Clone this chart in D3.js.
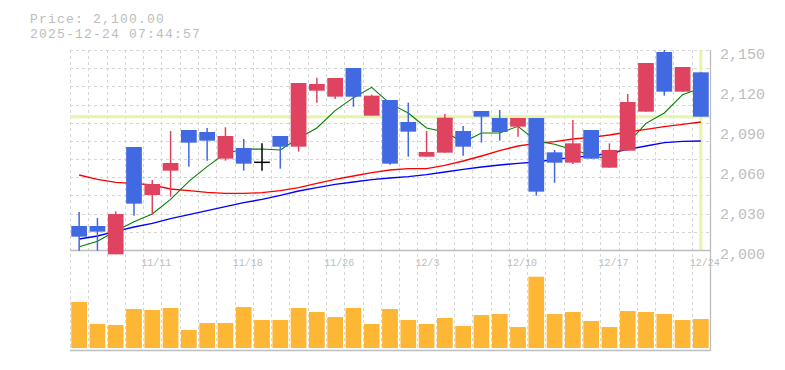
<!DOCTYPE html>
<html><head><meta charset="utf-8">
<script src="https://cdn.jsdelivr.net/npm/d3@7"></script>
<style>
html,body{margin:0;padding:0;background:#fff;}
svg{display:block;}
</style></head>
<body>
<svg id="c" width="785" height="370"></svg>
<script>
const dates = ["11/5","11/6","11/7","11/10","11/11","11/12","11/13","11/14","11/17","11/18","11/19","11/20","11/21","11/25","11/26","11/27","11/28","12/1","12/2","12/3","12/4","12/5","12/8","12/9","12/10","12/11","12/12","12/15","12/16","12/17","12/18","12/19","12/22","12/23","12/24"];
const openP  = [2018,2018,1996.75,2077.25,2041.25,2059.5,2090,2088.5,2068.5,2076.5,2065.75,2085.5,2077.5,2119.5,2115,2136.5,2100.75,2112.5,2096,2070,2073,2089.25,2104.25,2099,2092.5,2099,2073.25,2065.5,2090,2061.75,2074.5,2103.75,2148.5,2118.75,2133.25];
const highP  = [2028.5,2024,2029,2077.25,2052.5,2089.25,2090,2091.5,2092,2083.25,2080,2085.5,2125.25,2129.25,2129,2136.5,2116.5,2112.5,2110.5,2089.25,2102,2093,2104.25,2105,2099,2099,2075,2097.5,2090,2080,2117,2140.25,2150,2137.25,2133.25];
const lowP   = [1999.5,1999.5,1996.75,2025.75,2026.25,2040,2062.5,2067,2067,2059.5,2059.5,2061,2073.75,2110.5,2113.25,2107.5,2100.75,2064,2070,2070,2073,2070.75,2080.5,2082,2085,2040.75,2050.5,2064.5,2068.5,2061.75,2074.5,2103.75,2115.75,2118.75,2100];
const closeP = [2010,2013.75,2027,2034.75,2049.5,2065.25,2080.5,2082,2085.5,2064.75,2065.75,2077.5,2125.25,2124.5,2129,2115,2115.75,2064.75,2088.75,2073.5,2099.25,2077.5,2100,2088.5,2099,2043.75,2065.5,2080,2068.5,2075,2111,2140.25,2118.75,2137.25,2100];
const ma5  = [2002.5,2006.5,2014.25,2021.25,2027,2038,2051.5,2062.5,2072.5,2075.5,2075.75,2075,2083.75,2091.5,2104.5,2114.25,2122,2109.75,2102.75,2091.5,2088.5,2080.75,2087.75,2087.75,2092.75,2081.75,2079.25,2075.25,2071.25,2068,2080,2095,2102.75,2116.5,2121.5];
const ma25 = [2056.25,2053,2050.75,2050,2048.75,2045.75,2044.5,2043.25,2042.5,2042.5,2043,2044.5,2046.75,2050,2053,2055.5,2058,2060,2061,2061,2063.5,2066.75,2070.5,2074.5,2078,2080,2081.25,2083.25,2084.5,2086.25,2088.5,2090.5,2092.5,2094.25,2096];
const ma75 = [2008.25,2010.5,2014,2017.25,2020,2023.5,2026.5,2029.5,2032.5,2035.5,2038,2041,2044.25,2046.75,2049.25,2051,2052.75,2054,2055,2056.5,2058.5,2060.5,2062.25,2063.75,2065,2066,2068,2069.5,2070.5,2072.5,2075.5,2078,2080.5,2081.5,2081.75];
const volume = [4600,2400,2300,3900,3800,4000,1800,2500,2500,4100,2800,2800,4000,3600,3100,4000,2400,3900,2800,2400,3000,2200,3300,3400,2100,7130,3400,3600,2700,2100,3700,3600,3400,2800,2900];
const priceTicks = [2000,2030,2060,2090,2120,2150];
const dateTicks = ["11/11","11/18","11/26","12/3","12/10","12/17","12/24"];
const currentPrice = 2100;
const titleLines = ["Price: 2,100.00","2025-12-24 07:44:57"];

const svg = d3.select("#c");
const L = 70, R = 710, T = 50, B = 250, VB = 348, VT = 276.7, VAX = 350;
const x = d3.scaleBand().domain(dates).range([L, R]).paddingInner(0.14).paddingOuter(0.07);
const y = d3.scaleLinear().domain([2000, 2150]).range([B, T]);
const yv = d3.scaleLinear().domain([0, d3.max(volume)]).range([VB, VT]);
const step = x.step(), bw = x.bandwidth();
const cx = d => x(d) + bw / 2;
const boundary = (d, i) => L + i * step;

const gridColor = "#d6d6d6";
const grid = svg.append("g").attr("stroke", gridColor).attr("stroke-dasharray", "3,3").attr("stroke-width", 1).attr("shape-rendering", "crispEdges");
grid.selectAll("line.v").data(dates).join("line")
  .attr("x1", (d, i) => Math.round(boundary(d, i)) + 0.5)
  .attr("x2", (d, i) => Math.round(boundary(d, i)) + 0.5)
  .attr("y1", T).attr("y2", VAX);
const hVals = d3.range(11).map(k => 2150 - k * 150 / 11);
grid.selectAll("line.h").data(hVals).join("line")
  .attr("x1", L).attr("x2", R).attr("y1", d => Math.round(y(d)) + 0.5).attr("y2", d => Math.round(y(d)) + 0.5);

// current price line & crosshair
const hl = "#e6f5ab";
svg.append("line").attr("x1", L).attr("x2", R).attr("y1", y(currentPrice)).attr("y2", y(currentPrice))
  .attr("stroke", hl).attr("stroke-width", 3);
svg.append("line").attr("x1", cx(dates[dates.length-1])).attr("x2", cx(dates[dates.length-1])).attr("y1", T).attr("y2", B)
  .attr("stroke", hl).attr("stroke-width", 3);

// axis lines
const axisColor = "#bdbdbd";
svg.append("line").attr("x1", L).attr("x2", R).attr("y1", B + 0.5).attr("y2", B + 0.5).attr("stroke", axisColor).attr("stroke-width", 1.3);
svg.append("line").attr("x1", L).attr("x2", R).attr("y1", VAX + 0.5).attr("y2", VAX + 0.5).attr("stroke", axisColor).attr("stroke-width", 1.3);
svg.append("line").attr("x1", R + 0.5).attr("x2", R + 0.5).attr("y1", T).attr("y2", VAX + 1).attr("stroke", axisColor).attr("stroke-width", 1.3);

// volume bars
svg.append("g").selectAll("rect").data(dates).join("rect")
  .attr("x", d => x(d)).attr("width", bw)
  .attr("y", (d, i) => yv(volume[i])).attr("height", (d, i) => VB - yv(volume[i]))
  .attr("fill", "#fdb735");

// moving averages
const line = arr => d3.line().x((d, i) => cx(dates[i])).y(d => y(d))(arr);
svg.append("path").attr("d", line(ma75)).attr("fill", "none").attr("stroke", "#0000ff").attr("stroke-width", 1.4);
svg.append("path").attr("d", line(ma25)).attr("fill", "none").attr("stroke", "#ff0000").attr("stroke-width", 1.4);
svg.append("path").attr("d", line(ma5)).attr("fill", "none").attr("stroke", "#008000").attr("stroke-width", 1.1);

// candles
const upC = "#e0435f", dnC = "#4169e1";
const cg = svg.append("g");
dates.forEach((d, i) => {
  const o = openP[i], c = closeP[i];
  const col = c > o ? upC : (c < o ? dnC : "#000");
  cg.append("line").attr("x1", cx(d)).attr("x2", cx(d)).attr("y1", y(highP[i])).attr("y2", y(lowP[i]))
    .attr("stroke", col).attr("stroke-width", 1.5);
  if (c === o) {
    cg.append("line").attr("x1", x(d)).attr("x2", x(d) + bw).attr("y1", y(c)).attr("y2", y(c))
      .attr("stroke", col).attr("stroke-width", 1.5);
  } else {
    cg.append("rect").attr("x", x(d)).attr("width", bw)
      .attr("y", y(Math.max(o, c))).attr("height", Math.abs(y(o) - y(c)))
      .attr("fill", col);
  }
});

// y axis labels
const yAxis = d3.axisRight(y).tickValues(priceTicks).tickSize(0).tickPadding(10).tickFormat(d3.format(",.0f"));
const ya = svg.append("g").attr("transform", `translate(${R},0)`).call(yAxis);
ya.select(".domain").remove();
ya.selectAll("text").attr("font-family", "'Liberation Mono', monospace").attr("font-size", 15)
  .attr("fill", "#bdbdbd").attr("dy", 8);

// x axis labels
const xAxis = d3.axisBottom(x).tickValues(dateTicks).tickSize(0);
const xa = svg.append("g").attr("transform", `translate(0,${B})`).call(xAxis);
xa.select(".domain").remove();
xa.selectAll("text").attr("font-family", "'Liberation Mono', monospace").attr("font-size", 10)
  .attr("fill", "#bdbdbd").attr("text-anchor", "start").attr("x", -11).attr("y", 16).attr("dy", 0);

// title
svg.append("g").selectAll("text").data(titleLines).join("text")
  .attr("x", 30).attr("y", (d, i) => 22.5 + i * 15)
  .attr("font-family", "'Liberation Mono', monospace").attr("font-size", 13).attr("letter-spacing", 1.2)
  .attr("fill", "#bdbdbd").text(d => d);
</script>
</body></html>
